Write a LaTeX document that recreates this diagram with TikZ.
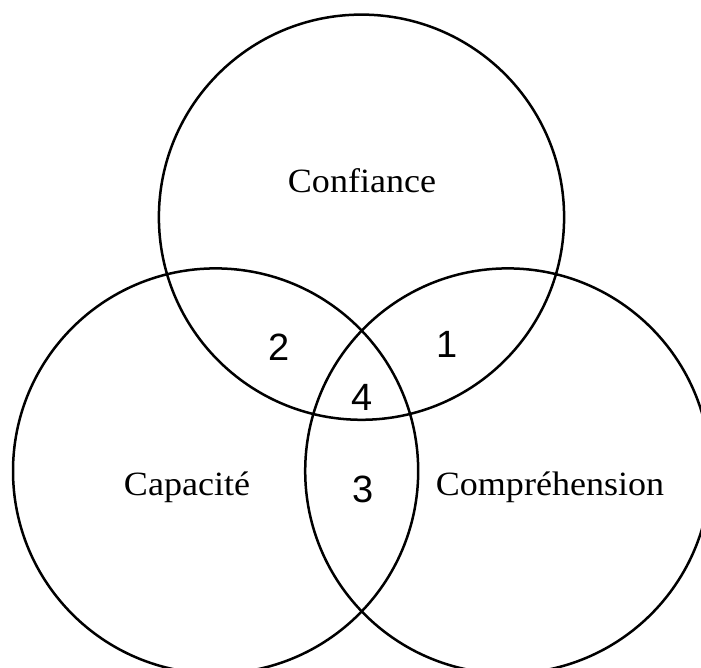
\documentclass[tikz,border=0pt]{standalone}
\usepackage{fontspec}
\setmainfont{Liberation Serif}[FakeStretch=1.06]
\newfontfamily\numfont{Liberation Sans}
\begin{document}
\begin{tikzpicture}[x=1pt,y=-1pt,
  ring/.style={draw=black,line width=2.5pt},
  setlabel/.style={inner sep=0pt,font=\fontsize{34}{40}\selectfont},
  zonelabel/.style={inner sep=0pt,font=\numfont\fontsize{38}{44}\selectfont}]
\useasboundingbox (0,0) rectangle (701,668);
\clip (0,0) rectangle (701,668);
\coordinate (ctop) at (361.5,217.2);
\coordinate (cleft) at (215.6,471);
\coordinate (cright) at (507.8,471);
\draw[ring] (ctop) circle[radius=202.6];
\draw[ring] (cleft) circle[radius=202.6];
\draw[ring] (cright) circle[radius=202.6];
\node[setlabel] (confiance) at (362,181) {Confiance};
\node[setlabel] (capacite) at (187,487) {Capacité};
\node[setlabel] (comprehension) at (550,487) {Compréhension};
\node[zonelabel] (z1) at (447,344) {1};
\node[zonelabel] (z2) at (279,347) {2};
\node[zonelabel] (z4) at (362,397) {4};
\node[zonelabel] (z3) at (363,489) {3};
\end{tikzpicture}
\end{document}
